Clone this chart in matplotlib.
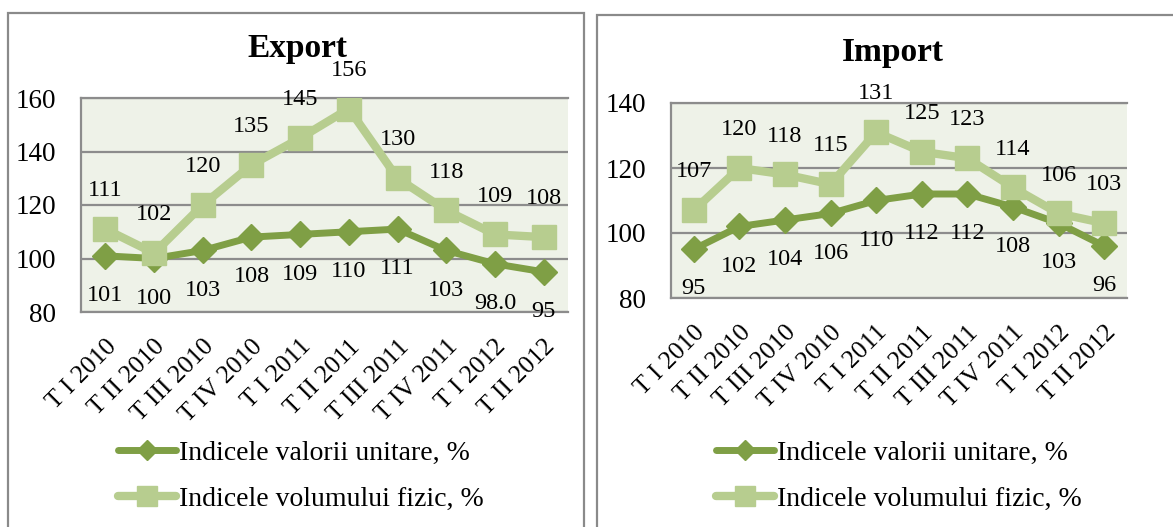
import matplotlib
matplotlib.use("Agg")
import matplotlib.pyplot as plt
from matplotlib.patches import Rectangle
from matplotlib.lines import Line2D

quarters = ["T I 2010", "T II 2010", "T III 2010", "T IV 2010", "T I 2011",
            "T II 2011", "T III 2011", "T IV 2011", "T I 2012", "T II 2012"]

export_unit = [101, 100, 103, 108, 109, 110, 111, 103, 98.0, 95]
export_volume = [111, 102, 120, 135, 145, 156, 130, 118, 109, 108]

import_unit = [95, 102, 104, 106, 110, 112, 112, 108, 103, 96]
import_volume = [107, 120, 118, 115, 131, 125, 123, 114, 106, 103]

unit_name = "Indicele valorii unitare, %"
volume_name = "Indicele volumului fizic, %"

DARK = "#7f9f45"
LIGHT = "#b7cd8f"
FACE = "#eef2e8"
GRID = "#8c8c8c"

plt.rcParams["font.family"] = ["Liberation Serif", "DejaVu Serif"]

W, H = 1173, 527
fig = plt.figure(figsize=(W / 100, H / 100), dpi=100)


def px_axes(x0, y0, x1, y1):
    return fig.add_axes([x0 / W, 1 - y1 / H, (x1 - x0) / W, (y1 - y0) / H])


# outer frames of the two charts
for x0, y0, x1 in [(8, 13, 584), (597, 15, 1180)]:
    fig.patches.append(Rectangle((x0 / W, -0.05), (x1 - x0) / W, 1 - y0 / H + 0.05,
                                 transform=fig.transFigure, fill=False,
                                 edgecolor="#8a8a8a", linewidth=1.6))


def draw(ax, title, unit, volume, ylim, ticks, title_xy, legend_xy):
    x = list(range(len(quarters)))
    ax.set_facecolor(FACE)
    ax.plot(x, unit, color=DARK, lw=5, marker="D", ms=13, mec=DARK, zorder=3)
    ax.plot(x, volume, color=LIGHT, lw=6, marker="s", ms=17, mec=LIGHT, zorder=4)
    for xi, v in zip(x, volume):
        ax.annotate(str(v), (xi, v), xytext=(0, 20), textcoords="offset points",
                    ha="center", va="bottom", fontsize=17.5, zorder=5)
    for xi, v in zip(x, unit):
        ax.annotate(str(v), (xi, v), xytext=(0, -21), textcoords="offset points",
                    ha="center", va="top", fontsize=17.5, zorder=5)
    ax.set_xlim(-0.5, len(quarters) - 0.5)
    ax.set_ylim(*ylim)
    ax.set_yticks(ticks)
    ax.yaxis.grid(True, color=GRID, lw=1.6)
    ax.set_axisbelow(True)
    ax.set_xticks(x)
    ax.set_xticklabels(quarters, rotation=45, ha="right", rotation_mode="anchor",
                       fontsize=18.5)
    ax.tick_params(axis="x", length=0, pad=17)
    ax.tick_params(axis="y", length=0, labelsize=19.5, pad=18)
    for side in ["left", "top", "bottom"]:
        ax.spines[side].set_color(GRID)
        ax.spines[side].set_linewidth(1.6)
    ax.spines["right"].set_visible(False)
    fig.text(title_xy[0] / W, 1 - title_xy[1] / H, title, fontsize=24,
             fontweight="bold", ha="center", va="center")
    handles = [Line2D([], [], color=DARK, lw=5, marker="D", ms=10, solid_capstyle="round"),
               Line2D([], [], color=LIGHT, lw=6, marker="s", ms=14, solid_capstyle="round")]
    fig.legend(handles, [unit_name, volume_name], loc="upper left",
               bbox_to_anchor=(legend_xy[0] / W, 1 - legend_xy[1] / H),
               bbox_transform=fig.transFigure, frameon=False, fontsize=20,
               handlelength=2.1, handletextpad=0.1, labelspacing=0.75,
               borderaxespad=0, borderpad=0)


ax1 = px_axes(81, 98, 568, 312)
draw(ax1, "Export", export_unit, export_volume, (80, 160), [80, 100, 120, 140, 160],
     (297, 49), (118, 440))

ax2 = px_axes(671, 103, 1127, 298)
draw(ax2, "Import", import_unit, import_volume, (80, 140), [80, 100, 120, 140],
     (893, 53), (716, 440))

fig.savefig("out.png", dpi=100)
